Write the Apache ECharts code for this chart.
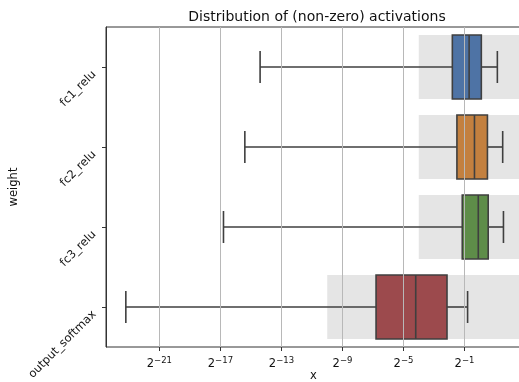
<!DOCTYPE html>
<html>
<head>
<meta charset="utf-8">
<script src="https://cdn.jsdelivr.net/npm/echarts@6/dist/echarts.min.js"></script>
<style>
  html, body { margin: 0; padding: 0; background: #fff; }
  #main { width: 519px; height: 382px; }
</style>
</head>
<body>
<div id="main"></div>
<script>
// layers, top to bottom
var layers = ['fc1_relu', 'fc2_relu', 'fc3_relu', 'output_softmax'];
// all values are log2(x)
var whiskerLow  = [-14.4, -15.4, -16.8, -23.2];
var quartile1   = [-1.8, -1.5, -1.15, -6.8];
var medians     = [-0.7, -0.35, -0.1, -4.2];
var quartile3   = [0.1, 0.5, 0.55, -2.15];
var whiskerHigh = [1.15, 1.5, 1.55, -0.8];
// shaded range behind each box
var shadeStart  = [-4, -4, -4, -10];
var shadeEnd    = [2.7, 2.7, 2.7, 2.7];
var boxColors   = ['#4e73a5', '#c3803f', '#5e8d49', '#9c4a4d'];
var tickExps    = [-21, -17, -13, -9, -5, -1];

var chart = echarts.init(document.getElementById('main'));

var boxData = [];
var shadeData = [];
for (var i = 0; i < layers.length; i++) {
  boxData.push([i, whiskerLow[i], quartile1[i], medians[i], quartile3[i], whiskerHigh[i]]);
  shadeData.push([i, shadeStart[i], shadeEnd[i]]);
}

var edge = '#3f3f3f';

function renderShade (params, api) {
  var cat = api.value(0);
  var p0 = api.coord([api.value(1), cat]);
  var p1 = api.coord([api.value(2), cat]);
  var h = api.size([0, 1])[1] * 0.8;
  return {
    type: 'rect',
    shape: { x: p0[0], y: p0[1] - h / 2, width: p1[0] - p0[0], height: h },
    style: { fill: '#e5e5e5' }
  };
}

function renderBox (params, api) {
  var cat = api.value(0);
  var lo = api.coord([api.value(1), cat]);
  var q1 = api.coord([api.value(2), cat]);
  var md = api.coord([api.value(3), cat]);
  var q3 = api.coord([api.value(4), cat]);
  var hi = api.coord([api.value(5), cat]);
  var h = api.size([0, 1])[1] * 0.8;
  var y = lo[1];
  var ln = { stroke: edge, lineWidth: 1.6 };
  return {
    type: 'group',
    children: [
      { type: 'line', shape: { x1: lo[0], y1: y, x2: q1[0], y2: y }, style: ln },
      { type: 'line', shape: { x1: q3[0], y1: y, x2: hi[0], y2: y }, style: ln },
      { type: 'line', shape: { x1: lo[0], y1: y - h / 4, x2: lo[0], y2: y + h / 4 }, style: ln },
      { type: 'line', shape: { x1: hi[0], y1: y - h / 4, x2: hi[0], y2: y + h / 4 }, style: ln },
      {
        type: 'rect',
        shape: { x: q1[0], y: y - h / 2, width: q3[0] - q1[0], height: h },
        style: { fill: boxColors[params.dataIndex], stroke: edge, lineWidth: 1.6 }
      },
      { type: 'line', shape: { x1: md[0], y1: y - h / 2, x2: md[0], y2: y + h / 2 }, style: ln }
    ]
  };
}

var option = {
  animation: false,
  title: {
    text: 'Distribution of (non-zero) activations',
    left: 312,
    textAlign: 'center',
    top: 5,
    textStyle: { fontFamily: 'DejaVu Sans', fontSize: 14, fontWeight: 'normal', color: '#111' }
  },
  grid: {
    left: 106, top: 27, right: -2, bottom: 35,
    containLabel: false,
    outerBoundsMode: 'none',
    show: true, borderColor: '#333', borderWidth: 1, backgroundColor: 'transparent'
  },
  xAxis: {
    type: 'value',
    min: -24.5,
    max: 2.7,
    z: 5,
    name: 'x',
    nameLocation: 'middle',
    nameGap: 23,
    nameMoveOverlap: false,
    nameTextStyle: { fontFamily: 'DejaVu Sans', fontSize: 11.5, color: '#111' },
    axisLine: { onZero: false, lineStyle: { color: '#333', width: 1 } },
    axisTick: { show: true, length: 4, customValues: tickExps, lineStyle: { color: '#333' } },
    axisLabel: {
      customValues: tickExps,
      margin: 9,
      formatter: function (v) {
        return '{b|2}{s|\u2212' + Math.abs(v) + '}';
      },
      rich: {
        b: { fontFamily: 'DejaVu Sans', fontSize: 11.5, color: '#111' },
        s: { fontFamily: 'DejaVu Sans', fontSize: 8.5, color: '#111', padding: [0, 0, 8, 0] }
      }
    },
    splitLine: { show: true, lineStyle: { color: '#b8b8b8', width: 1 } }
  },
  yAxis: {
    type: 'category',
    data: layers,
    inverse: true,
    name: 'weight',
    nameLocation: 'middle',
    nameGap: 86,
    nameRotate: 90,
    nameMoveOverlap: false,
    nameTextStyle: { fontFamily: 'DejaVu Sans', fontSize: 11.5, color: '#111' },
    axisLine: { onZero: false, lineStyle: { color: '#333', width: 1 } },
    axisTick: { show: true, length: 4, alignWithLabel: true, lineStyle: { color: '#333' } },
    axisLabel: {
      rotate: 45,
      margin: 6,
      padding: [0, 8, 0, 0],
      fontFamily: 'DejaVu Sans',
      fontSize: 11.5,
      color: '#111'
    },
    splitLine: { show: false }
  },
  series: [
    {
      type: 'custom',
      z: 1,
      renderItem: renderShade,
      encode: { x: [1, 2], y: 0 },
      data: shadeData
    },
    {
      type: 'custom',
      z: 2,
      renderItem: renderBox,
      encode: { x: [1, 2, 3, 4, 5], y: 0 },
      data: boxData
    }
  ]
};

chart.setOption(option);
</script>
</body>
</html>
